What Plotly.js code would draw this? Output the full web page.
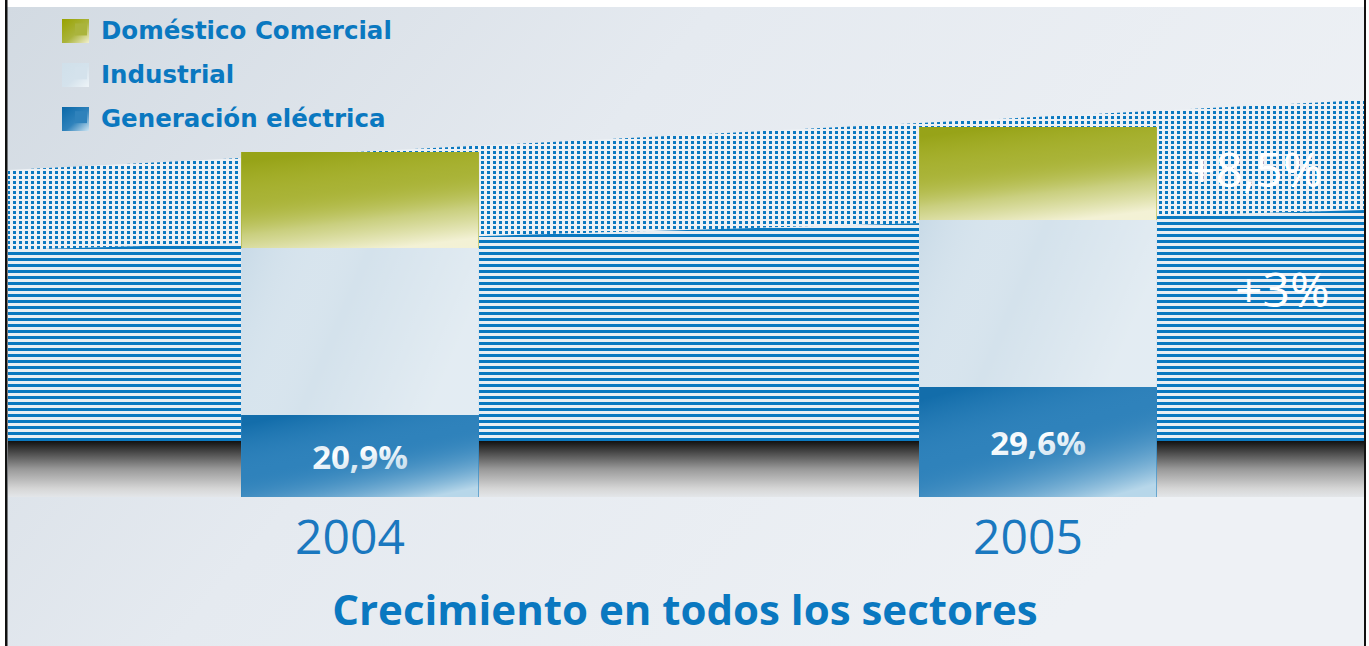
<!DOCTYPE html>
<html>
<head>
<meta charset="utf-8">
<script src="https://cdn.plot.ly/plotly-3.0.1.min.js"></script>
<style>html,body{margin:0;padding:0;background:#fff;}#chart{width:1369px;height:646px;}</style>
</head>
<body>
<div id="chart"></div>
<script>
// ---- data ----
const years = ['2004', '2005'];
const yearPos = [0, 1];
const generacion = [8.2, 11.0];
const industrial = [16.7, 16.7];
const domestico = [9.6, 9.3];
const generacionLabels = ['20,9%', '29,6%'];
const growthLabels = ['+3%', '+8,5%']; // industrial, doméstico comercial
const seriesNames = ['Generación eléctrica', 'Industrial', 'Doméstico Comercial'];

const blue = '#0a78c0';
const svgUri = s => 'data:image/svg+xml;charset=utf-8,' + encodeURIComponent(s);

const bgSvg = `<svg xmlns="http://www.w3.org/2000/svg" width="1369" height="646" viewBox="0 0 1369 646">
<defs>
<linearGradient id="bg" x1="0" y1="0" x2="1" y2="0.4"><stop offset="0" stop-color="#d2dae2"/><stop offset="0.45" stop-color="#e5eaf0"/><stop offset="1" stop-color="#eef1f5"/></linearGradient>
<pattern id="dots" width="6" height="5" patternUnits="userSpaceOnUse"><rect width="6" height="5" fill="#edf1f5"/><rect x="1" y="1" width="3" height="3" fill="#0a78c0"/></pattern>
<pattern id="lines" width="12" height="6" patternUnits="userSpaceOnUse"><rect width="12" height="6" fill="#e9eef3"/><rect y="0" width="12" height="3" fill="#0a78c0"/></pattern>
<linearGradient id="sh" x1="0" y1="0" x2="0" y2="1"><stop offset="0" stop-color="#111"/><stop offset="0.12" stop-color="#333"/><stop offset="0.5" stop-color="#999"/><stop offset="0.85" stop-color="#d6d6d6"/><stop offset="1" stop-color="#e3e6e9"/></linearGradient>
</defs>
<rect width="1369" height="646" fill="#ffffff"/>
<rect x="6" y="7" width="1359" height="639" fill="url(#bg)"/>
<polygon points="8,170 1365,100 1365,210 8,250" fill="url(#dots)"/>
<polygon points="8,250 1365,210 1365,441 8,441" fill="url(#lines)"/>
<rect x="8" y="441" width="1357" height="56" fill="url(#sh)"/>
<rect x="5" y="0" width="2.5" height="646" fill="#111"/>
<rect x="1364" y="0" width="2" height="646" fill="#111"/>
</svg>`;

// gradient overlays for bar segments (shading only)
const gradSvg = (stops, x1, y1, x2, y2) => svgUri(`<svg xmlns="http://www.w3.org/2000/svg" width="100" height="100" viewBox="0 0 100 100" preserveAspectRatio="none"><defs><linearGradient id="g" x1="${x1}" y1="${y1}" x2="${x2}" y2="${y2}">${stops.map(s => `<stop offset="${s[0]}" stop-color="${s[1]}" stop-opacity="${s[2]}"/>`).join('')}</linearGradient></defs><rect width="100" height="100" fill="url(#g)"/></svg>`);
const domGrad = gradSvg([[0, '#8a9800', 0.6], [0.35, '#a0aa10', 0.15], [0.7, '#f0f0d0', 0.45], [1, '#fbf8e6', 0.9]], 0.35, 0, 0.65, 1);
const indGrad = gradSvg([[0, '#bcd2e2', 0.5], [0.5, '#ffffff', 0.0], [1, '#ffffff', 0.35]], 0, 0, 1, 0.3);
const genGrad = gradSvg([[0, '#005f9f', 0.6], [0.45, '#2f82bb', 0.0], [1, '#cfe6f2', 0.85]], 0.2, 0, 0.8, 1);
const swatchDom = gradSvg([[0, '#98a200', 1], [0.55, '#aab43c', 1], [1, '#f2f0d0', 1]], 0, 0, 1, 1);
const swatchInd = gradSvg([[0, '#d0e0ea', 1], [0.55, '#d4e2ec', 1], [1, '#eef4f8', 1]], 0, 0, 1, 1);
const swatchGen = gradSvg([[0, '#0a68a8', 1], [0.55, '#2f82bb', 1], [1, '#cfe5f2', 1]], 0, 0, 1, 1);

const W = 1369, H = 646, L = 8, R = 4, T = 97, B = 149;
const pw = W - L - R, ph = H - T - B;

const barW = 0.35;
const common = {type: 'bar', x: yearPos, width: barW, hoverinfo: 'skip'};

const traces = [
  Object.assign({}, common, {name: seriesNames[0], y: generacion, legendgroup: 'g', legendrank: 3,
    marker: {color: '#2f82bb', line: {width: 0}},
    text: generacionLabels, textposition: 'inside', insidetextanchor: 'middle', textangle: 0,
    constraintext: 'none',
    textfont: {family: 'Open Sans', size: 33, color: '#ffffff', weight: 'bold'}}),
  Object.assign({}, common, {name: seriesNames[1], y: industrial, legendgroup: 'i', legendrank: 2,
    marker: {color: '#d4e2ec', line: {width: 0}}}),
  Object.assign({}, common, {name: seriesNames[2], y: domestico, legendgroup: 'd', legendrank: 1,
    marker: {color: '#aab43c', line: {width: 0}}})
];

const xr0 = -(360 - L) / 678, xr1 = xr0 + pw / 678;

const annotations = [
  {x: 1.36, y: generacion[1] + industrial[1] / 2, text: growthLabels[0], yshift: 15},
  {x: 1.32, y: generacion[1] + industrial[1] + domestico[1] / 2, text: growthLabels[1], yshift: 5}
].map(a => Object.assign({xref: 'x', yref: 'y', showarrow: false, xanchor: 'center', yanchor: 'middle',
  font: {family: 'Open Sans', size: 48, color: '#ffffff'}}, a));

const images = [{
  source: svgUri(bgSvg), xref: 'paper', yref: 'paper',
  x: -L / pw, y: 1 + T / ph, sizex: W / pw, sizey: H / ph,
  xanchor: 'left', yanchor: 'top', sizing: 'stretch', layer: 'below'
}];
// shading over each stacked segment, positioned from the data
yearPos.forEach((xp, i) => {
  const segs = [[generacion[i], 0, genGrad],
                [industrial[i], generacion[i], indGrad],
                [domestico[i], generacion[i] + industrial[i], domGrad]];
  segs.forEach(([v, base, src]) => images.push({
    source: src, xref: 'x', yref: 'y', x: xp - barW / 2, y: base + v, sizex: barW, sizey: v,
    xanchor: 'left', yanchor: 'top', sizing: 'stretch', layer: 'above'
  }));
});
// legend swatches (larger gradient squares behind the legend symbols)
[[swatchDom, 19], [swatchInd, 63], [swatchGen, 107]].forEach(([src, top]) => images.push({
  source: src, xref: 'paper', yref: 'paper',
  x: (62 - L) / pw, y: (H - B - top) / ph, sizex: 27 / pw, sizey: 24 / ph,
  xanchor: 'left', yanchor: 'top', sizing: 'stretch', layer: 'above'
}));

const layout = {
  width: W, height: H,
  margin: {l: L, r: R, t: T, b: B, pad: 0, autoexpand: false},
  paper_bgcolor: '#e6ebf0',
  plot_bgcolor: 'rgba(0,0,0,0)',
  barmode: 'stack',
  showlegend: true,
  legend: {
    xref: 'container', yref: 'container',
    x: 61 / W, y: 1 - 7 / H, xanchor: 'left', yanchor: 'top',
    bgcolor: 'rgba(0,0,0,0)', borderwidth: 0,
    traceorder: 'grouped', tracegroupgap: 9,
    font: {family: 'DejaVu Sans', size: 24.5, color: blue, weight: 'bold'}
  },
  title: {
    text: 'Crecimiento en todos los sectores',
    x: 685 / W, xref: 'container', xanchor: 'center',
    y: 1 - 610 / H, yref: 'container', yanchor: 'middle',
    font: {family: 'Open Sans', size: 42, color: blue, weight: 'bold'}
  },
  xaxis: {
    range: [xr0, xr1], tickvals: yearPos, ticktext: years,
    showgrid: false, zeroline: false, showline: false, ticks: '',
    ticklabelstandoff: 8, ticklabelshift: -10,
    tickfont: {family: 'Open Sans', size: 48, color: '#1a78bf'},
    fixedrange: true
  },
  yaxis: {
    range: [0, 40], showgrid: false, zeroline: false, showline: false,
    showticklabels: false, ticks: '', fixedrange: true
  },
  annotations: annotations,
  images: images
};

Plotly.newPlot('chart', traces, layout, {displayModeBar: false, staticPlot: true});
</script>
</body>
</html>
